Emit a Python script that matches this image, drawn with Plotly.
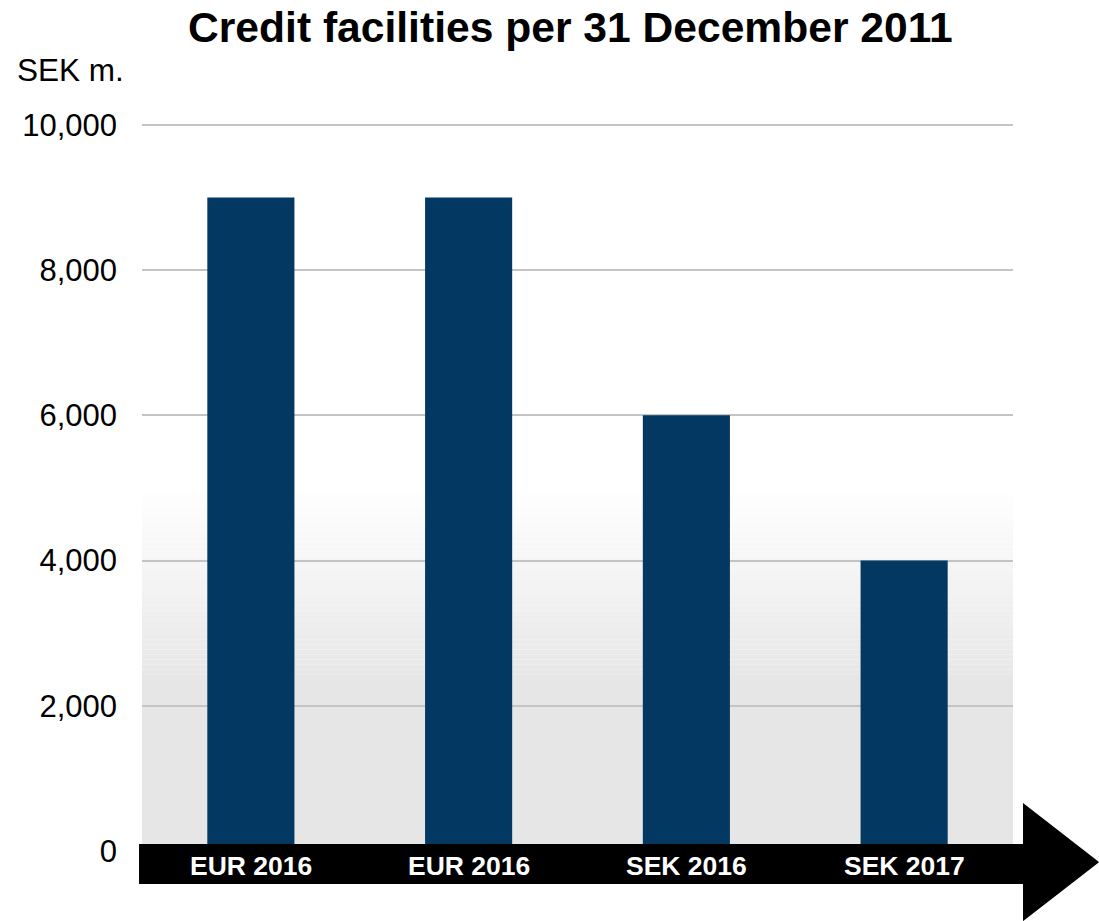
import plotly.graph_objects as go

# Credit facilities per 31 December 2011, SEK m.
facilities = ["EUR 2016 (a)", "EUR 2016 (b)", "SEK 2016", "SEK 2017"]
facility_labels = ["EUR 2016", "EUR 2016", "SEK 2016", "SEK 2017"]
amounts = [9000, 9000, 6000, 4000]
y_ticks = [0, 2000, 4000, 6000, 8000, 10000]
y_tick_labels = ["0", "2,000", "4,000", "6,000", "8,000", "10,000"]

FONT = "Arial, 'Liberation Sans', sans-serif"
BAR_COLOR = "#023862"

fig = go.Figure(
    go.Bar(
        x=facilities,
        y=amounts,
        width=0.4,
        marker=dict(color=BAR_COLOR, line=dict(width=0)),
        hoverinfo="skip",
    )
)

shapes = []

# soft background: white at the top, fading to light grey towards the base
top_white = 5000
full_grey = 2300
steps = 40
for i in range(steps):
    y0 = full_grey + (top_white - full_grey) * i / steps
    y1 = full_grey + (top_white - full_grey) * (i + 1) / steps
    t = (i + 0.5) / steps
    v = round(0xE6 + (0xFF - 0xE6) * t)
    shapes.append(dict(type="rect", xref="paper", yref="y", x0=0, x1=1, y0=y0, y1=y1,
                       fillcolor=f"rgb({v},{v},{v})", line=dict(width=0), layer="below"))
shapes.append(dict(type="rect", xref="paper", yref="y", x0=0, x1=1, y0=0, y1=full_grey,
                   fillcolor="rgb(230,230,230)", line=dict(width=0), layer="below"))

# black time arrow along the base of the chart
shapes.append(dict(
    type="path", xref="paper", yref="paper",
    path="M -0.0034 0.0096 L 1.0115 0.0096 L 1.0115 0.0661 L 1.099 -0.0152 "
         "L 1.0115 -0.0964 L 1.0115 -0.0455 L -0.0034 -0.0455 Z",
    fillcolor="black", line=dict(width=0), layer="above",
))

annotations = [
    dict(x=f, y=-0.02, xref="x", yref="paper", text=f"<b>{lab}</b>", showarrow=False,
         font=dict(family=FONT, size=26.5, color="white"), xanchor="center", yanchor="middle")
    for f, lab in zip(facilities, facility_labels)
]
annotations.append(dict(x=-0.146, y=1.073, xref="paper", yref="paper", text="SEK m.",
                        showarrow=False, xanchor="left", yanchor="middle",
                        font=dict(family=FONT, size=31.5, color="black")))

fig.update_layout(
    width=1099,
    height=921,
    margin=dict(l=142, r=86, t=123, b=70),
    paper_bgcolor="white",
    plot_bgcolor="white",
    showlegend=False,
    title=dict(text="<b>Credit facilities per 31 December 2011</b>", x=0.519, xanchor="center",
               y=0.971, yanchor="middle", font=dict(family=FONT, size=42.6, color="black")),
    xaxis=dict(showticklabels=False, showgrid=False, zeroline=False, showline=False,
               range=[-0.5, 3.5]),
    yaxis=dict(range=[0, 10025], tickvals=y_ticks, ticktext=y_tick_labels,
               showgrid=True, gridcolor="#c4c4c4", gridwidth=2, zeroline=False,
               showline=False, ticks="", ticklabelstandoff=24,
               tickfont=dict(family=FONT, size=31, color="black")),
    shapes=shapes,
    annotations=annotations,
    bargap=0.6,
)

fig.write_html("out.html")
